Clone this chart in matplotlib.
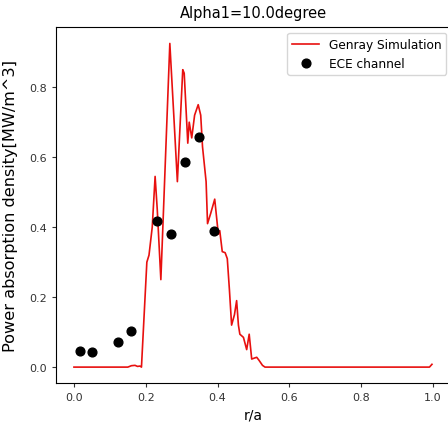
import matplotlib
matplotlib.use("Agg")
import matplotlib.pyplot as plt

# Genray simulation profile
r_sim = [0.0, 0.15, 0.16, 0.17, 0.177, 0.184, 0.188, 0.203, 0.209, 0.218, 0.226,
         0.232, 0.242, 0.267, 0.278, 0.288, 0.303, 0.307, 0.317, 0.321, 0.328,
         0.336, 0.346, 0.353, 0.358, 0.363, 0.368, 0.372, 0.381, 0.392, 0.398,
         0.402, 0.406, 0.413, 0.421, 0.427, 0.433, 0.439, 0.447, 0.453, 0.458,
         0.462, 0.472, 0.481, 0.488, 0.495, 0.503, 0.509, 0.515, 0.525, 0.532,
         0.99, 0.997]
p_sim = [0.0, 0.0, 0.004, 0.005, 0.002, 0.003, 0.0, 0.30, 0.32, 0.40, 0.545,
         0.45, 0.25, 0.925, 0.72, 0.53, 0.85, 0.84, 0.64, 0.70, 0.655,
         0.72, 0.75, 0.72, 0.63, 0.58, 0.53, 0.41, 0.44, 0.48, 0.42,
         0.38, 0.39, 0.33, 0.327, 0.31, 0.22, 0.12, 0.15, 0.19, 0.12,
         0.094, 0.085, 0.05, 0.094, 0.023, 0.026, 0.028, 0.02, 0.005, 0.0,
         0.0, 0.008]

# ECE channel measurements
r_ece = [0.017, 0.051, 0.123, 0.160, 0.232, 0.271, 0.310, 0.349, 0.391]
p_ece = [0.047, 0.042, 0.073, 0.102, 0.418, 0.380, 0.585, 0.659, 0.389]

xticks = [0.0, 0.2, 0.4, 0.6, 0.8, 1.0]
yticks = [0.0, 0.2, 0.4, 0.6, 0.8]

fig = plt.figure(figsize=(4.48, 4.27), dpi=100)
ax = fig.add_axes([56 / 448, 42.8 / 427, 395 / 448, 356.2 / 427])

ax.plot(r_sim, p_sim, color="#e8100f", lw=1.2, label="Genray Simulation")
ax.plot(r_ece, p_ece, "o", color="black", ms=6.3, label="ECE channel")

ax.set_xlim(-0.05, 1.05)
ax.set_ylim(-0.046, 0.972)
ax.set_xticks(xticks)
ax.set_yticks(yticks)
ax.tick_params(labelsize=8, length=3, width=0.8, colors="#333333", labelcolor="#333333")
for s in ax.spines.values():
    s.set_linewidth(0.8)

ax.set_title("Alpha1=10.0degree", fontsize=10.5, pad=7)
ax.set_xlabel("r/a", fontsize=10)
ax.set_ylabel("Power absorption density[MW/m^3]", fontsize=11.6)
ax.yaxis.set_label_coords(-0.095, 0.5)

ax.legend(loc="upper right", bbox_to_anchor=(446 / 448, 1 - 34 / 427),
          bbox_transform=fig.transFigure, fontsize=8.7, borderaxespad=0,
          handlelength=2.2, framealpha=0.8)

fig.savefig("out.png", dpi=100)
